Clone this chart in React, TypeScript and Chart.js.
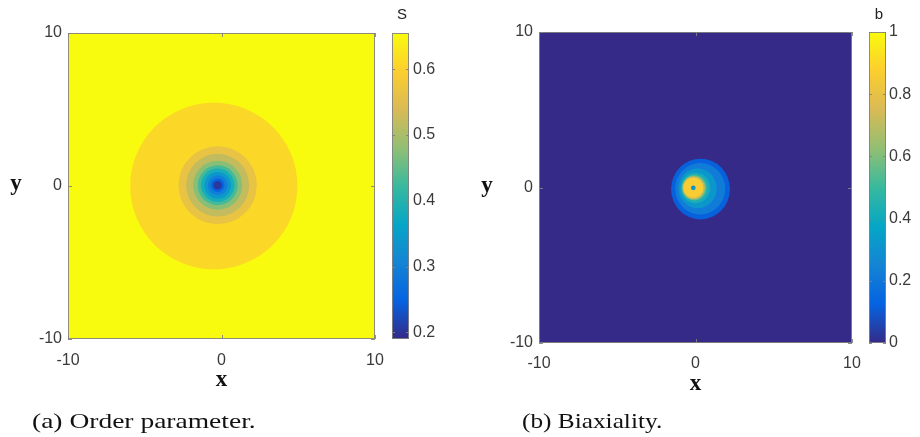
import React, { useEffect, useRef } from "react";
import { Chart, registerables } from "chart.js";
Chart.register(...registerables);

// ---- data ----
const axisTicks = [-10, 0, 10];
const sTicks = [0.2, 0.3, 0.4, 0.5, 0.6];
const bTicks = [0, 0.2, 0.4, 0.6, 0.8, 1];
const sRange = [0.19, 0.655];
const bRange = [0, 1];
const sBackground = 0.655;
const bBackground = 0;

// Order parameter S: filled contour rings, outer -> inner
const sRingX = [-0.5, -0.25, -0.25, -0.25, -0.25, -0.25, -0.25, -0.25, -0.25, -0.25];
const sRingY = [0, 0.05, 0.05, 0.05, 0.05, 0.05, 0.05, 0.05, 0.05, 0.05];
const sRingR = [5.45, 2.55, 2.05, 1.6, 1.3, 1.09, 0.87, 0.65, 0.44, 0.28];
const sRingV = [0.61, 0.565, 0.52, 0.475, 0.43, 0.385, 0.34, 0.295, 0.25, 0.205];

// Biaxiality b: filled contour rings, outer -> inner
const bRingX = [0.32, 0.3, 0.13, -0.01, -0.08, -0.11, -0.14, -0.14];
const bRingY = [-0.1, -0.08, -0.05, -0.03, -0.02, -0.02, -0.02, -0.02];
const bRingRx = [1.88, 1.6, 1.22, 0.94, 0.79, 0.71, 0.64, 0.15];
const bRingRy = [1.95, 1.66, 1.28, 0.98, 0.82, 0.74, 0.66, 0.15];
const bRingV = [0.12, 0.22, 0.32, 0.42, 0.55, 0.7, 0.86, 0.3];

const captionA = "(a) Order parameter.";
const captionB = "(b) Biaxiality.";

// ---- colour map ----
const parulaStops = [
  [53, 42, 135],
  [5, 99, 225],
  [20, 132, 212],
  [6, 166, 198],
  [56, 185, 158],
  [146, 191, 115],
  [217, 186, 86],
  [252, 206, 46],
  [249, 251, 14],
];
function parula(t: number) {
  const c = Math.max(0, Math.min(1, t));
  const s = c * (parulaStops.length - 1);
  const i = Math.min(parulaStops.length - 2, Math.floor(s));
  const f = s - i;
  const a = parulaStops[i], b = parulaStops[i + 1];
  const m = (k: number) => Math.round(a[k] + (b[k] - a[k]) * f);
  return `rgb(${m(0)},${m(1)},${m(2)})`;
}

const tickFont = { family: "'Liberation Sans', Arial, sans-serif", size: 16 };
const tickColor = "#3a3a3a";

type PanelCfg = {
  left: number;
  padTop: number;
  yAxisW: number;
  xAxisH: number;
  cbW: number;
  cbPad: number;
  xPad: number;
  range: number[];
  cbTicks: number[];
  bg: number;
  title: string;
  rings: { x: number; y: number; rx: number; ry: number; v: number }[];
};

function makePlugin(cfg: PanelCfg) {
  const frac = (v: number) => (v - cfg.range[0]) / (cfg.range[1] - cfg.range[0]);
  return {
    id: "contour",
    beforeDatasetsDraw(chart: any) {
      const { ctx, chartArea: a, scales } = chart;
      const xs = scales.x, ys = scales.y, cb = scales.cb;
      ctx.save();
      ctx.beginPath();
      ctx.rect(a.left, a.top, a.right - a.left, a.bottom - a.top);
      ctx.clip();
      ctx.fillStyle = parula(frac(cfg.bg));
      ctx.fillRect(a.left, a.top, a.right - a.left, a.bottom - a.top);
      const data = chart.data.datasets[0].data;
      for (const p of data) {
        const cx = xs.getPixelForValue(p.x);
        const cy = ys.getPixelForValue(p.y);
        const rx = Math.abs(xs.getPixelForValue(p.x + p.rx) - cx);
        const ry = Math.abs(ys.getPixelForValue(p.y + p.ry) - cy);
        ctx.fillStyle = parula(frac(p.v));
        ctx.beginPath();
        ctx.ellipse(cx, cy, rx, ry, 0, 0, Math.PI * 2);
        ctx.fill();
      }
      ctx.restore();

      // axes box
      ctx.save();
      ctx.strokeStyle = "rgba(130,130,130,0.9)";
      ctx.lineWidth = 1;
      ctx.strokeRect(a.left + 0.5, a.top + 0.5, a.right - a.left - 1, a.bottom - a.top - 1);
      ctx.beginPath();
      for (const v of axisTicks) {
        const px = Math.round(xs.getPixelForValue(v)) + 0.5;
        ctx.moveTo(px, a.bottom); ctx.lineTo(px, a.bottom - 4);
        ctx.moveTo(px, a.top); ctx.lineTo(px, a.top + 4);
        const py = Math.round(ys.getPixelForValue(v)) + 0.5;
        ctx.moveTo(a.left, py); ctx.lineTo(a.left + 4, py);
        ctx.moveTo(a.right, py); ctx.lineTo(a.right - 4, py);
      }
      ctx.stroke();

      // colour bar
      const bx0 = cb.left + 17, bx1 = cb.left + 34;
      const top = cb.getPixelForValue(cfg.range[1]);
      const bot = cb.getPixelForValue(cfg.range[0]);
      const g = ctx.createLinearGradient(0, bot, 0, top);
      parulaStops.forEach((c, i) => g.addColorStop(i / (parulaStops.length - 1), `rgb(${c[0]},${c[1]},${c[2]})`));
      ctx.fillStyle = g;
      ctx.fillRect(bx0, top, bx1 - bx0, bot - top);
      ctx.strokeRect(bx0 + 0.5, top + 0.5, bx1 - bx0 - 1, bot - top - 1);
      ctx.beginPath();
      for (const v of cfg.cbTicks) {
        const py = Math.round(cb.getPixelForValue(v)) + 0.5;
        ctx.moveTo(bx1, py); ctx.lineTo(bx1 - 3, py);
        ctx.moveTo(bx0, py); ctx.lineTo(bx0 + 3, py);
      }
      ctx.stroke();

      // colour bar title
      ctx.fillStyle = "#222";
      ctx.font = "15px 'Liberation Sans', Arial, sans-serif";
      ctx.textAlign = "center";
      ctx.textBaseline = "alphabetic";
      ctx.fillText(cfg.title, (bx0 + bx1) / 2 + 1.5, 19);

      // axis labels
      ctx.fillStyle = "#111";
      ctx.font = "bold 23px 'Liberation Serif', 'Times New Roman', serif";
      ctx.fillText("x", (a.left + a.right) / 2, a.bottom + 47);
      ctx.fillText("y", a.left - 52, (a.top + a.bottom) / 2 + 4);
      ctx.restore();
    },
  };
}

function Panel({ cfg }: { cfg: PanelCfg }) {
  const ref = useRef<HTMLCanvasElement>(null);
  useEffect(() => {
    const setTicks = (vals: number[]) => (s: any) => {
      s.ticks = vals.map((v) => ({ value: v }));
    };
    const chart = new Chart(ref.current as HTMLCanvasElement, {
      type: "scatter",
      data: {
        datasets: [
          {
            data: cfg.rings as any,
            pointRadius: 0,
            pointHoverRadius: 0,
          },
        ],
      },
      options: {
        responsive: false,
        maintainAspectRatio: false,
        animation: false,
        events: [],
        layout: { padding: { left: 0, right: 0, top: cfg.padTop, bottom: 0 } },
        plugins: { legend: { display: false }, tooltip: { enabled: false } },
        scales: {
          x: {
            type: "linear",
            min: -10,
            max: 10,
            grid: { display: false, drawTicks: false },
            border: { display: false },
            afterBuildTicks: setTicks(axisTicks),
            afterFit: (s: any) => { s.height = cfg.xAxisH; s.paddingLeft = 0; s.paddingRight = 0; },
            ticks: { padding: cfg.xPad, font: tickFont, color: tickColor, maxRotation: 0, autoSkip: false, callback: (v: any) => String(v) },
          },
          y: {
            type: "linear",
            position: "left",
            min: -10,
            max: 10,
            grid: { display: false, drawTicks: false },
            border: { display: false },
            afterBuildTicks: setTicks(axisTicks),
            afterFit: (s: any) => { s.width = cfg.yAxisW; s.paddingTop = 0; s.paddingBottom = 0; },
            ticks: { padding: 6, font: tickFont, color: tickColor, autoSkip: false, callback: (v: any) => String(v) },
          },
          cb: {
            type: "linear",
            position: "right",
            min: cfg.range[0],
            max: cfg.range[1],
            grid: { display: false, drawTicks: false },
            border: { display: false },
            afterBuildTicks: setTicks(cfg.cbTicks),
            afterFit: (s: any) => { s.width = cfg.cbW; s.paddingTop = 0; s.paddingBottom = 0; },
            ticks: { padding: cfg.cbPad, font: tickFont, color: tickColor, autoSkip: false, callback: (v: any) => String(v) },
          },
        },
      } as any,
      plugins: [makePlugin(cfg) as any],
    });
    return () => chart.destroy();
  }, []);
  return (
    <canvas
      ref={ref}
      width={460}
      height={437}
      style={{ position: "absolute", left: cfg.left, top: 0, width: 460, height: 437 }}
    />
  );
}

const leftCfg: PanelCfg = {
  left: 0,
  padTop: 33,
  yAxisW: 68,
  xAxisH: 98,
  cbW: 85,
  cbPad: 38,
  xPad: 12,
  range: sRange,
  cbTicks: sTicks,
  bg: sBackground,
  title: "S",
  rings: sRingR.map((r, i) => ({ x: sRingX[i], y: sRingY[i], rx: r, ry: r, v: sRingV[i] })),
};

const rightCfg: PanelCfg = {
  left: 460,
  padTop: 32,
  yAxisW: 79,
  xAxisH: 94,
  cbW: 68,
  cbPad: 37,
  xPad: 11,
  range: bRange,
  cbTicks: bTicks,
  bg: bBackground,
  title: "b",
  rings: bRingRx.map((r, i) => ({ x: bRingX[i], y: bRingY[i], rx: r, ry: bRingRy[i], v: bRingV[i] })),
};

const captionStyle: React.CSSProperties = {
  position: "absolute",
  top: 407,
  fontFamily: "'Liberation Serif', 'Times New Roman', serif",
  fontSize: 22,
  color: "#111",
  whiteSpace: "nowrap",
  transformOrigin: "left center",
  lineHeight: "28px",
};

export default function App() {
  return (
    <div style={{ position: "absolute", left: 0, top: 0, width: 920, height: 437, background: "#fff", overflow: "hidden" }}>
      <Panel cfg={leftCfg} />
      <Panel cfg={rightCfg} />
      <div style={{ ...captionStyle, left: 32, transform: "scaleX(1.25)" }}>{captionA}</div>
      <div style={{ ...captionStyle, left: 522, transform: "scaleX(1.15)" }}>{captionB}</div>
    </div>
  );
}
